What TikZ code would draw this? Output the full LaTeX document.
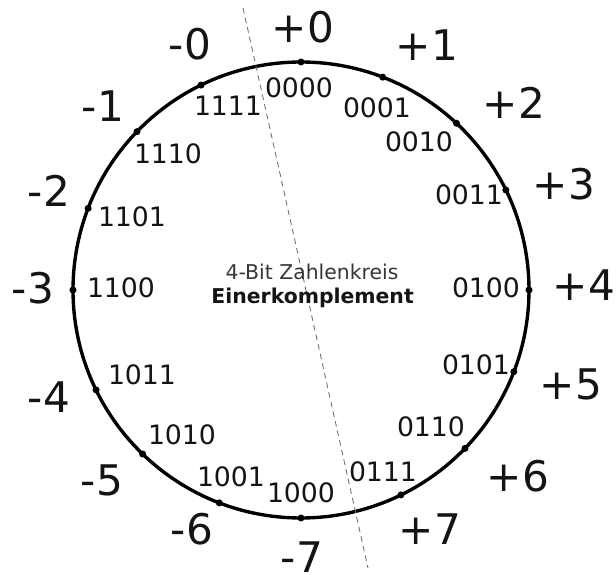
\documentclass[tikz,border=0pt]{standalone}
\usepackage{fontspec}
\setmainfont{DejaVu Sans}
\definecolor{ring}{HTML}{000000}
\definecolor{cut}{HTML}{6B6B6B}
\definecolor{capt}{HTML}{141414}

\begin{document}
\begin{tikzpicture}[
    pt/.style={circle, fill=ring, inner sep=0pt, minimum size=5pt},
    val/.style={font=\fontsize{30}{36}\selectfont, text=capt, inner sep=0pt},
    bits/.style={font=\fontsize{19}{23}\selectfont, text=capt, inner sep=0pt},
    lbl/.style={font=\fontsize{14.5}{17}\selectfont, text=capt!85, inner sep=0pt}]

  \useasboundingbox (-7.525,-7.125) rectangle (7.875,7.25);

  % ── the ring of 16 codes ──
  \draw[ring, line width=2.4pt] (0,0) circle (5.7);
  \coordinate (ct) at (-1.45,7.05);
  \coordinate (cb) at (1.675,-6.95);
  \draw[cut, line width=0.6pt, dash pattern=on 4pt off 3pt] (ct) -- (cb);

  % ── dots: positive half on the right, negative half on the left ──
  \node[pt] (p0) at (90:5.7)   {};
  \node[pt] (p1) at (69:5.7)   {};
  \node[pt] (p2) at (47:5.7)   {};
  \node[pt] (p3) at (26:5.7)   {};
  \node[pt] (p4) at (0:5.7)    {};
  \node[pt] (p5) at (-21:5.7)  {};
  \node[pt] (p6) at (-44:5.7)  {};
  \node[pt] (p7) at (-64:5.7)  {};
  \node[pt] (m7) at (-90:5.7)  {};
  \node[pt] (m6) at (-111:5.7) {};
  \node[pt] (m5) at (-134:5.7) {};
  \node[pt] (m4) at (-154:5.7) {};
  \node[pt] (m3) at (180:5.7)  {};
  \node[pt] (m2) at (159:5.7)  {};
  \node[pt] (m1) at (136:5.7)  {};
  \node[pt] (m0) at (116:5.7)  {};

  % ── values outside ──
  \node[val] (vp0) at (0.05,6.575)    {+0};
  \node[val] (vp1) at (3.15,6.125)    {+1};
  \node[val] (vp2) at (5.325,4.675)   {+2};
  \node[val] (vp3) at (6.575,2.65)    {+3};
  \node[val] (vp4) at (7.075,0.125)   {+4};
  \node[val] (vp5) at (6.75,-2.35)    {+5};
  \node[val] (vp6) at (5.425,-4.65)   {+6};
  \node[val] (vp7) at (3.225,-5.975)  {+7};
  \node[val] (vm7) at (0.025,-6.675)  {-7};
  \node[val] (vm6) at (-2.725,-5.975) {-6};
  \node[val] (vm5) at (-4.975,-4.75)  {-5};
  \node[val] (vm4) at (-6.3,-2.675)   {-4};
  \node[val] (vm3) at (-6.7,0.05)     {-3};
  \node[val] (vm2) at (-6.3,2.475)    {-2};
  \node[val] (vm1) at (-4.95,4.6)     {-1};
  \node[val] (vm0) at (-2.775,6.15)   {-0};

  % ── bit patterns inside ──
  \node[bits] (bp0) at (-0.05,5.05)   {0000};
  \node[bits] (bp1) at (1.9,4.55)     {0001};
  \node[bits] (bp2) at (2.95,3.7)     {0010};
  \node[bits] (bp3) at (4.2,2.375)    {0011};
  \node[bits] (bp4) at (4.625,0.05)   {0100};
  \node[bits] (bp5) at (4.375,-1.875) {0101};
  \node[bits] (bp6) at (3.25,-3.425)  {0110};
  \node[bits] (bp7) at (2.05,-4.55)   {0111};
  \node[bits] (bm7) at (0,-5.075)     {1000};
  \node[bits] (bm6) at (-1.75,-4.675) {1001};
  \node[bits] (bm5) at (-2.975,-3.625){1010};
  \node[bits] (bm4) at (-3.975,-2.125){1011};
  \node[bits] (bm3) at (-4.5,0.05)    {1100};
  \node[bits] (bm2) at (-4.225,1.825) {1101};
  \node[bits] (bm1) at (-3.325,3.4)   {1110};
  \node[bits] (bm0) at (-1.825,4.6)   {1111};

  % ── caption in the middle ──
  \node[lbl] (ttl) at (0.275,0.45) {4-Bit Zahlenkreis};
  \node[lbl, text=capt, font=\fontsize{14.5}{17}\selectfont\bfseries] (sub) at (0.29,-0.2) {Einerkomplement};
\end{tikzpicture}
\end{document}
